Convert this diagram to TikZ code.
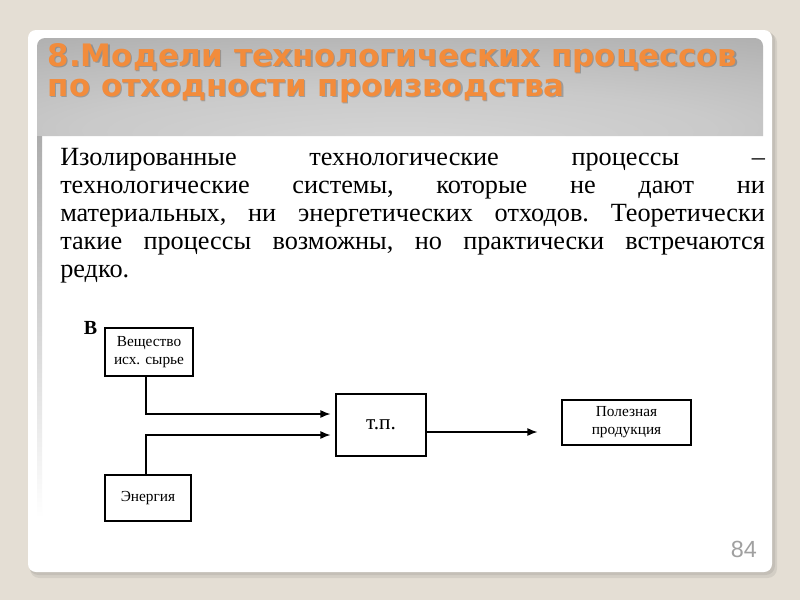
\documentclass[tikz,border=0pt]{standalone}
\usepackage{fontspec}
\setmainfont{Liberation Serif}
\newfontfamily\titlefont{DejaVu Sans}
\newfontfamily\numfont{Liberation Sans}
\usepackage{tikz}
\usetikzlibrary{arrows.meta,calc}
\definecolor{pagebg}{HTML}{E4DED4}
\definecolor{titleorange}{HTML}{F28C3C}
\definecolor{numgray}{HTML}{A0A0A0}
\pgfdeclareradialshading{headglow}{\pgfpoint{0bp}{-32bp}}{%
  color(0bp)=(gray!32); color(22bp)=(gray!42); color(45bp)=(gray!62); color(70bp)=(gray!70)}

\begin{document}
\begin{tikzpicture}
 [x=0.75pt, y=-0.75pt,
  box node/.style={draw, line width=0.9pt, inner sep=0pt, align=center, font=\fontsize{11.5}{13.5}\selectfont},
  flow/.style={line width=0.9pt, -{Latex[length=7.5pt,width=6pt]}, shorten >=3.75pt},
  title text/.style={anchor=base west, align=left, font=\titlefont\bfseries\fontsize{23.2}{22}\selectfont}]

% page and card
\fill[pagebg] (0,0) rectangle (800,600);
\fill[black, opacity=0.07, rounded corners=7pt] (30,33) rectangle (777,578);
\fill[black, opacity=0.07, rounded corners=7pt] (29,31) rectangle (775,575);
\fill[white, rounded corners=6pt] (28,30) rectangle (772,572);

% header band
\shade[shading=headglow]
  (37,136) {[rounded corners=6pt] -- (37,38) -- (763,38) -- (763,60)} -- (763,136) -- cycle;
\shade[top color=gray!65, bottom color=white] (37,136) rectangle (42,518);

% title
\node[title text, text=black!70, opacity=0.35] at (44.2,97.2)
  {8.Модели технологических процессов\\по отходности производства};
\node (title) [title text, text=titleorange] at (43,96)
  {8.Модели технологических процессов\\по отходности производства};

% body text
\node (body) [anchor=north west, inner sep=0pt, text width=528.5pt, align=justify,
      font=\fontsize{19.7}{21}\selectfont\frenchspacing] at (60,148)
  {Изолированные технологические процессы~--\linebreak
   технологические системы, которые не дают ни\linebreak
   материальных, ни энергетических отходов. Теоретически\linebreak
   такие процессы возможны, но практически встречаются\linebreak
   редко.};

% scheme
\node (label) [anchor=base, font=\bfseries\fontsize{15}{15}\selectfont] at (90.5,334) {В};
\node[box node, minimum width=66pt, minimum height=36pt] (vesh) at (149,352) {Вещество\\исх. сырье};
\node[box node, minimum width=64.5pt, minimum height=34.5pt] (energy) at (148,498) {Энергия};
\node[box node, minimum width=67.5pt, minimum height=46.5pt, font=\fontsize{16}{18}\selectfont] (tp) at (381,425) {т.п.};
\node[box node, minimum width=96.75pt, minimum height=33.75pt] (prod) at (626.5,422.5) {Полезная\\продукция};

\draw[flow] ($(vesh.south)+(-3,0)$) |- ($(tp.west)+(0,-11)$);
\draw[flow] ($(energy.north)+(-2,0)$) |- ($(tp.west)+(0,10)$);
\draw[flow, shorten >=18pt] ($(tp.east)+(0,7)$) -- ($(prod.west)+(0,9.5)$);

% page number
\node (num) [anchor=base east, inner sep=0pt, text=numgray, font=\numfont\fontsize{17.5}{17.5}\selectfont] at (757,557) {84};
\end{tikzpicture}
\end{document}
